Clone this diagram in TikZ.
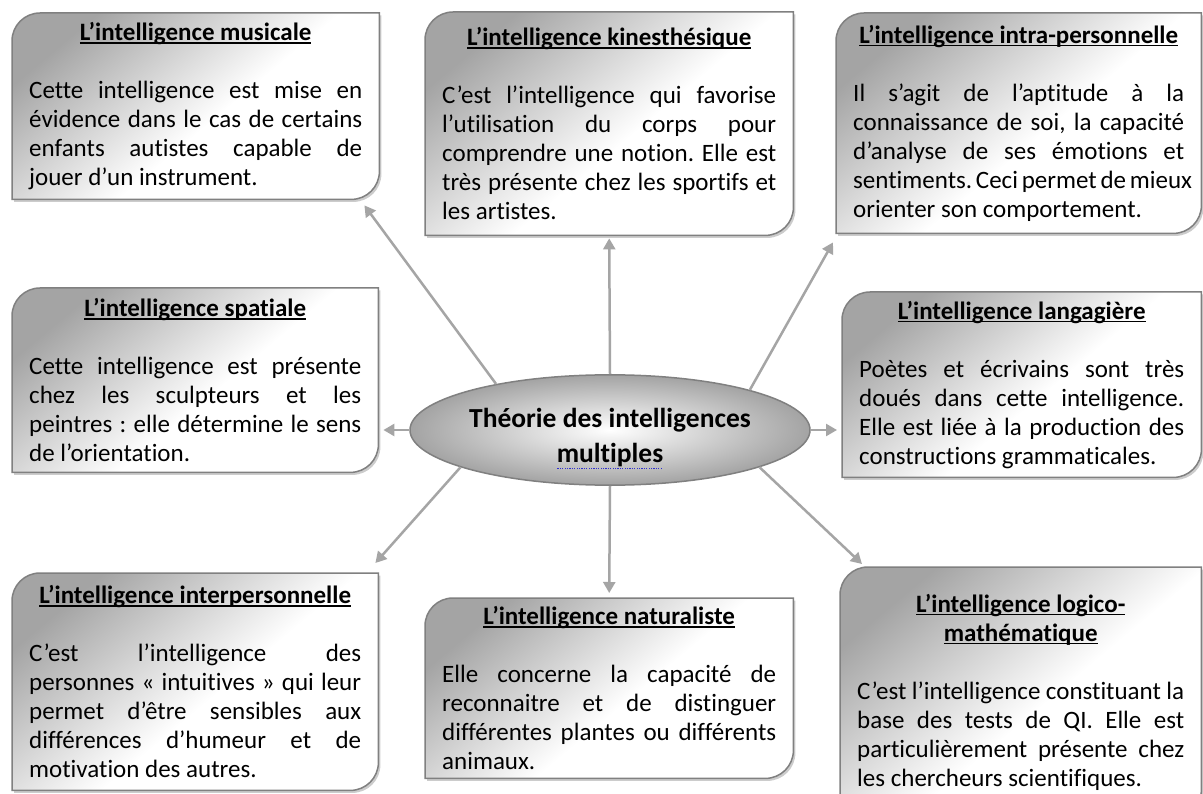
\documentclass[tikz,border=0pt]{standalone}
\usepackage{fontspec}
\setmainfont{Carlito}[Ligatures=NoCommon]
\usepackage{tikz}
\usetikzlibrary{shapes,arrows.meta,positioning,calc,shadows,backgrounds}

\definecolor{linegray}{HTML}{808080}
\definecolor{arrowgray}{HTML}{A5A5A5}
\definecolor{shadegray}{HTML}{A4A4A4}
\definecolor{spellblue}{HTML}{3030D0}

\pgfdeclareverticalshading{boxshade}{100bp}{color(0bp)=(white); color(46bp)=(white);
  color(75bp)=(shadegray); color(100bp)=(shadegray)}

\setlength{\parindent}{0pt}
\hbadness=10000
\hfuzz=20pt
\frenchspacing

% title underline, body lines
\newcommand{\tul}[1]{\leavevmode\setbox0=\hbox{#1}\rlap{\rule[-3pt]{\wd0}{1.6pt}}\box0}
\newcommand{\ititle}[1]{{\centering\bfseries #1\par}\vspace{29pt}}
\newcommand{\jline}[1]{\makebox[\hsize][s]{#1}\\}
\newcommand{\squig}[1]{\leavevmode\setbox0=\hbox{#1}\rlap{\raisebox{-7pt}{\color{spellblue}\leaders\hbox to 2.4pt{\hss\rule{1.1pt}{1.1pt}\hss}\hskip\wd0}}\box0}

\tikzset{
  ibox/.style={anchor=north west, inner xsep=17pt, inner ysep=0pt, align=flush left,
    font=\fontsize{25}{29}\selectfont},
  iframe/.style={draw=linegray, line width=1.5pt, shading=boxshade, shading angle=40,
    drop shadow={shadow xshift=2pt, shadow yshift=-2.5pt, fill=black, opacity=0.2}},
  theo/.style={ellipse, draw=linegray, line width=1.5pt, inner color=white, outer color=black!36,
    minimum width=400pt, minimum height=94pt, inner sep=0pt, align=center,
    font=\fontsize{27.5}{35}\selectfont\bfseries},
  arr/.style={draw=arrowgray, line width=2.5pt, -{Triangle[length=11pt,width=12pt]}}
}

\begin{document}
\begin{tikzpicture}[x=1pt, y=1pt]
    \useasboundingbox (0,0) rectangle (1203,-794);

    % Centre
    \node [theo] (th) at (610,-430) {\rule{0pt}{36pt}Théorie des intelligences\\\squig{multiples}};

    % Intelligence boxes
    \node [ibox, minimum width=367pt, minimum height=186pt, text width=333pt] (mus) at (12,-13) {%
      \ititle{\tul{L’intelligence musicale}}
      \jline{Cette intelligence est mise en}
      \jline{évidence dans le cas de certains}
      \jline{enfants autistes capable de}
      jouer d’un instrument.};
    \node [ibox, minimum width=368pt, minimum height=223pt, text width=334pt] (kin) at (425,-12) {%
      \ititle{\tul{L’intelligence kinesthésique}}
      \jline{C’est l’intelligence qui favorise}
      \jline{l’utilisation du corps pour}
      \jline{comprendre une notion. Elle est}
      \jline{très présente chez les sportifs et}
      les artistes.};
    \node [ibox, minimum width=365pt, minimum height=220pt, text width=331pt] (intra) at (836,-13) {%
      \ititle{\tul{L’intelligence intra-personnelle}}
      \jline{Il s’agit de l’aptitude à la}
      \jline{connaissance de soi, la capacité}
      \jline{d’analyse de ses émotions et}
      \jline{sentiments. Ceci permet de mieux}
      orienter son comportement.};
    \node [ibox, minimum width=366pt, minimum height=184pt, text width=332pt] (spa) at (12,-288) {%
      \ititle{\tul{L’intelligence spatiale}}
      \jline{Cette intelligence est présente}
      \jline{chez les sculpteurs et les}
      \jline{peintres : elle détermine le sens}
      de l’orientation.};
    \node [ibox, minimum width=359pt, minimum height=185pt, text width=325pt] (lang) at (842,-292) {%
      \ititle{\tul{L’intelligence langagière}}
      \jline{Poètes et écrivains sont très}
      \jline{doués dans cette intelligence.}
      \jline{Elle est liée à la production des}
      constructions grammaticales.};
    \node [ibox, minimum width=366pt, minimum height=217pt, text width=332pt] (inter) at (12,-573) {%
      \ititle{\tul{L’intelligence interpersonnelle}}
      \jline{C’est l’intelligence des}
      \jline{personnes « intuitives » qui leur}
      \jline{permet d’être sensibles aux}
      \jline{différences d’humeur et de}
      motivation des autres.};
    \node [ibox, minimum width=368pt, minimum height=180pt, text width=334pt] (nat) at (425,-598) {%
      \ititle{\tul{L’intelligence naturaliste}}
      \jline{Elle concerne la capacité de}
      \jline{reconnaitre et de distinguer}
      \jline{différentes plantes ou différents}
      animaux.};
    \node [ibox, minimum width=361pt, minimum height=250pt, text width=327pt] (logi) at (840,-567) {%
      \ititle{\tul{L’intelligence logico-}\\\tul{mathématique}}
      \jline{C’est l’intelligence constituant la}
      \jline{base des tests de QI. Elle est}
      \jline{particulièrement présente chez}
      les chercheurs scientifiques.};

    % Box outlines
    \begin{scope}[on background layer]
      \fill [white] (0,0) rectangle (1203,-794);
      \foreach \b in {mus,kin,intra,spa,lang,inter,nat,logi}
        \path [iframe] (\b.south west) -- ([yshift=-28pt]\b.north west)
          arc [start angle=180, end angle=90, radius=28pt] -- (\b.north east)
          -- ([yshift=28pt]\b.south east)
          arc [start angle=0, end angle=-90, radius=28pt] -- cycle;
    \end{scope}

    % Connections
    \draw [arr] (th.158) -- ([shift={(-15pt,-6pt)}]mus.south east);
    \draw [arr] (th.north) -- ([yshift=-3pt]kin.south);
    \draw [arr] (th.16) -- ([shift={(-3pt,-9pt)}]intra.south west);
    \draw [arr] (th.west) -- ($(th.west -| spa.east)+(5pt,0)$);
    \draw [arr] (th.east) -- ($(th.east -| lang.west)+(-5pt,0)$);
    \draw [arr] (th.194) -- ([shift={(-3pt,10pt)}]inter.north east);
    \draw [arr] (th.south) -- ([yshift=5pt]nat.north);
    \draw [arr] (th.346) -- ([shift={(22pt,3pt)}]logi.north west);
\end{tikzpicture}
\end{document}
